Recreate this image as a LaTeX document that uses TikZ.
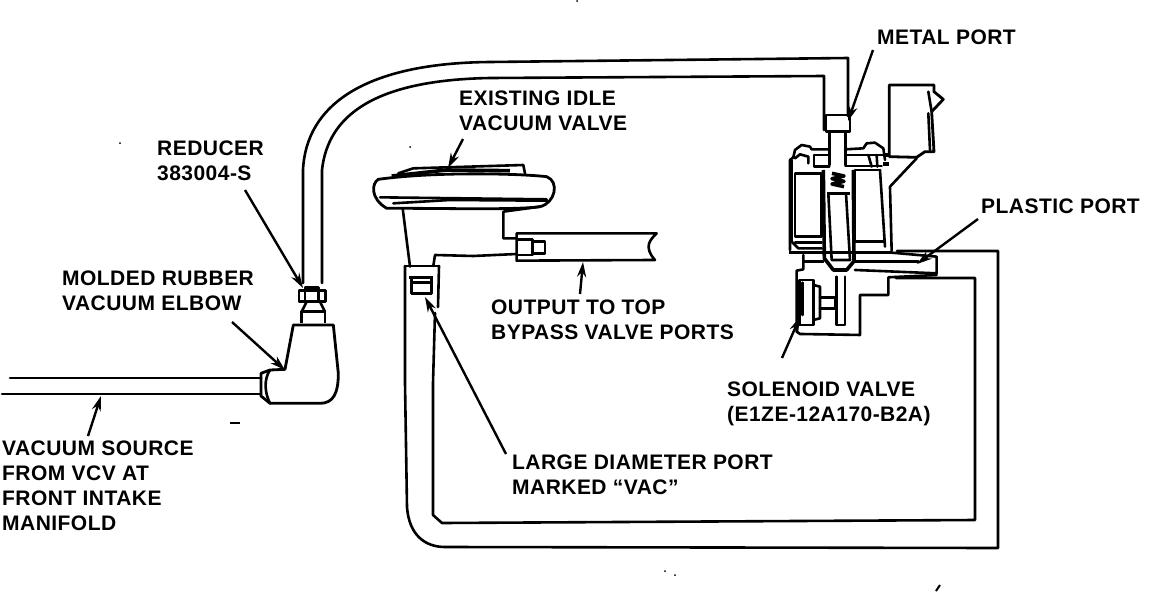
\documentclass[tikz,border=0pt]{standalone}
\usepackage{fontspec}
\setmainfont[LetterSpace=2.2]{Liberation Sans}
\usetikzlibrary{arrows.meta}
\tikzset{
  part/.style={line width=2.6pt, line join=round, line cap=round},
  heavy/.style={line width=3.6pt, line join=round},
  leader/.style={line width=2.4pt, -{Stealth[length=15pt,width=9pt]}},
  caption/.style={anchor=north west, inner sep=0pt, align=left, font=\fontsize{21}{25}\selectfont\bfseries},
  closeup/.style={x=0.3333pt, y=-0.3333pt},
}
\begin{document}
\begin{tikzpicture}[x=1pt, y=-1pt]
\useasboundingbox (0,0) rectangle (1152,592);
% labels
\node[caption] (metalport) at (877,30) {METAL PORT};
\node[caption] (idlevalve) at (459,91) {EXISTING IDLE\\VACUUM VALVE};
\node[caption] (reducer) at (157,141) {REDUCER\\383004-S};
\node[caption] (elbow) at (62,271) {MOLDED RUBBER\\VACUUM ELBOW};
\node[caption] (output) at (491,300) {OUTPUT TO TOP\\BYPASS VALVE PORTS};
\node[caption] (plasticport) at (981,199) {PLASTIC PORT};
\node[caption] (solenoid) at (727,382) {SOLENOID VALVE\\(E1ZE-12A170-B2A)};
\node[caption] (largeport) at (512,455) {LARGE DIAMETER PORT\\MARKED ``VAC''};
\node[caption] (source) at (2,441) {VACUUM SOURCE\\FROM VCV AT\\FRONT INTAKE\\MANIFOLD};
% leaders
\coordinate (metaltip) at (848,121);
\coordinate (idletip) at (448,168);
\coordinate (plastictip) at (917,264);
\coordinate (solenoidtip) at (800,317);
\coordinate (outputtip) at (583,262);
\coordinate (largetip) at (425,297);
\coordinate (reducertip) at (303,288);
\coordinate (elbowtip) at (285,370);
\coordinate (sourcetip) at (101,396);
\draw[leader] (873,50) -- (metaltip);
\draw[leader] (463,139) -- (idletip);
\draw[leader] (978,219) -- (plastictip);
\draw[leader] (782,358) -- (solenoidtip);
\draw[leader] (580,294) -- (outputtip);
\draw[leader] (506,454) -- (largetip);
\draw[leader] (245,190) -- (reducertip);
\draw[leader] (232,322) -- (elbowtip);
\draw[leader] (88,436) -- (sourcetip);
% vacuum lines
\draw[part] (303,283) -- (303,170) .. controls (306,105) and (365,63) .. (490,62) -- (848,58) -- (848,116);
\draw[part] (322,283) -- (322,170) .. controls (328,115) and (375,80) .. (490,78) -- (824,76) -- (824,130);
\draw[part] (10,378) -- (261,378);
\draw[part] (2,394) -- (261,394);
\draw[part] (405,266) -- (405,383) -- (407,507) .. controls (409,535) and (425,547) .. (445,547) -- (998,548) -- (998,251) -- (897,251);
\draw[part] (439,266) -- (438,307) (435,313) -- (433,383) -- (433,515) -- (442,523) -- (975,520) -- (975,278) -- (896,278);
\draw[part] (405,266) -- (439,266);
% elbow and reducer
\begin{scope}[shift={(230,260)}, closeup]
  \draw[heavy, line width=2.8pt] (190,195) -- (310,195) -- (325,340) .. controls (325,400) and (310,430) .. (270,430)
    -- (120,430) -- (93,408) -- (93,340) -- (120,330) -- (165,328) -- cycle;
  \draw[part] (120,330) .. controls (100,360) and (105,400) .. (120,430);
  \draw[heavy, line width=2.8pt] (215,190) -- (215,155) -- (285,155) -- (285,190);
  \draw[part] (230,125) -- (215,155) (270,125) -- (285,155);
  \draw[heavy, line width=2.8pt] (207,92) rectangle (287,125);
  \draw[part] (225,125) -- (225,82) -- (265,82) -- (265,125);
\end{scope}
% idle vacuum valve
\begin{scope}[shift={(350,140)}, closeup]
  \draw[heavy, line width=2.8pt] (85,118) .. controls (65,130) and (60,175) .. (110,205) -- (160,205) .. controls (300,205) and (500,210) .. (570,200)
    .. controls (615,190) and (630,125) .. (590,110) .. controls (500,100) and (250,95) .. cycle;
  \draw[part] (145,100) -- (190,85) -- (520,75) -- (525,100);
  \draw[heavy] (125,108) -- (290,90) -- (480,92);
  \draw[part] (90,172) -- (590,178);
  \draw[part] (130,190) -- (300,180) -- (590,182);
  \draw[part] (158,205) -- (180,380);
  \draw[part] (570,200) -- (460,215) -- (460,295) -- (500,295);
  \draw[part] (250,378) -- (255,345) -- (370,348) -- (500,342);
  \draw[part] (500,280) -- (920,280) .. controls (900,300) and (880,320) .. (915,360) -- (500,362) -- cycle;
  \draw[heavy, line width=2.8pt] (500,298) -- (548,298) -- (548,345) -- (500,345);
  \draw[part] (548,305) -- (585,305) -- (585,340) -- (548,340);
  \draw[part] (185,412) -- (185,460) -- (245,460) -- (245,412);
  \draw[heavy] (178,412) -- (248,412);
  \draw[part] (190,428) -- (245,428);
\end{scope}
% solenoid valve
\begin{scope}[shift={(740,60)}, closeup]
  \draw[heavy, line width=2.8pt] (258,215) -- (258,165) -- (330,165) -- (330,215) -- cycle;
  \draw[part] (268,215) -- (268,315) (316,215) -- (316,315);
  \draw[part] (150,570) -- (150,300) -- (160,292) -- (165,270) -- (185,255) -- (210,260) -- (215,268) -- (268,268);
  \draw[part] (165,295) -- (180,283) -- (205,290) -- (205,310);
  \draw[part] (222,285) -- (268,285) (222,285) -- (222,320) -- (268,320);
  \draw[part] (316,268) -- (370,265) -- (380,250) -- (405,248) -- (430,265) -- (435,300);
  \draw[part] (316,285) -- (435,285) (316,318) -- (425,318);
  \draw[part] (385,285) -- (395,320) (410,285) -- (412,320);
  \draw[part] (165,340) rectangle (245,530);
  \draw[part] (155,300) -- (155,545) -- (175,565) -- (245,565);
  \draw[part] (165,548) -- (245,548);
  \draw[part] (345,330) -- (420,330) (345,330) -- (345,545) -- (430,545);
  \draw[part] (420,330) -- (435,560);
  \draw[heavy] (148,578) -- (455,578);
  \draw[heavy] (250,330) -- (253,595) -- (280,630) -- (320,630) -- (345,600);
  \draw[heavy] (340,330) -- (342,600);
  \draw[heavy, line width=2.8pt] (262,400) -- (330,400);
  \draw[part] (265,400) -- (275,600) -- (330,600) -- (318,400);
  \draw[heavy] (276,340) -- (312,348) -- (276,356) -- (312,364) -- (276,372) -- (312,380);
  \draw[part] (290,650) -- (290,795) -- (315,795) -- (315,650);
  % plastic port and lower body
  \draw[part] (455,578) -- (590,590) -- (590,640) -- (345,630);
  \draw[part] (345,605) -- (535,605);
  \draw[part] (190,585) -- (190,628) -- (170,632) -- (170,815) -- (180,822) -- (360,825) -- (360,705) -- (445,705) -- (445,652) -- (590,645);
  \draw[part] (190,605) -- (250,605);
  % small valve on the side
  \draw[heavy, line width=2.8pt] (178,660) rectangle (220,795);
  \draw[part] (187,668) -- (187,765);
  \draw[part] (220,675) -- (240,680) -- (240,775) -- (220,780);
  \draw[part] (240,712) -- (285,712) -- (285,745) -- (240,745);
  % box on top
  \draw[heavy, line width=2.8pt] (448,75) -- (582,75) -- (582,95) -- (610,118) -- (575,155) -- (582,275) -- (555,275) -- (530,292) -- (448,290) -- cycle;
  \draw[part] (565,95) -- (575,155) (565,160) -- (570,270);
  \draw[part] (530,295) -- (450,380) -- (455,572);
  \draw[heavy] (430,285) -- (448,285) (430,312) -- (448,312);
\end{scope}
% scan specks
\foreach \px/\py in {120/143, 410/147, 665/571, 675/575, 577/1}
  \fill (\px,\py) circle (1pt);
\draw[line width=2pt] (230,423) -- (240,423);
\draw[line width=2pt] (936,591) -- (940,585);
\end{tikzpicture}
\end{document}
